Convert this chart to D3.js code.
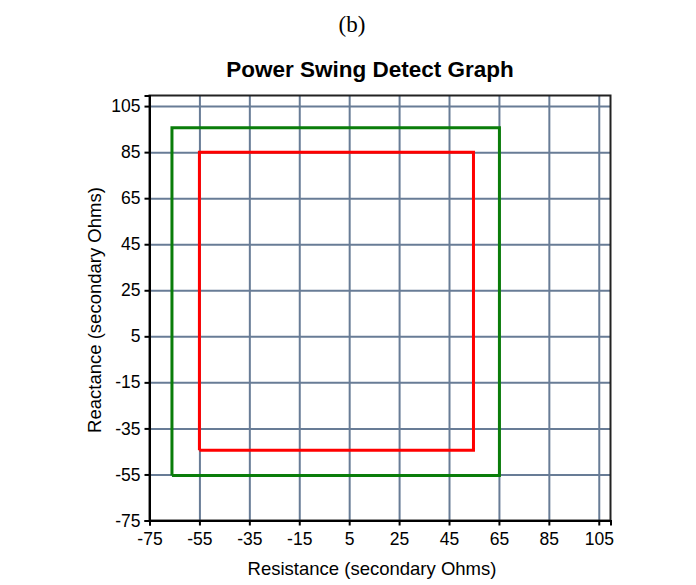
<!DOCTYPE html>
<html>
<head>
<meta charset="utf-8">
<script src="https://cdn.jsdelivr.net/npm/d3@7"></script>
<style>
  body { margin: 0; background: #fff; }
  .axis text { font-family: "Liberation Sans", Arial, sans-serif; font-size: 17.5px; fill: #000; }
  .axis path, .axis line { stroke: #000; stroke-width: 2px; }
  .grid line { stroke: #687c96; stroke-width: 2px; }
  .grid path { display: none; }
</style>
</head>
<body>
<div class="demo"></div>
<script>
const w = 696, h = 585;
const pLeft = 149.5, pRight = 610.5, pTop = 95.5, pBottom = 520.5;

// tick values shared by both axes
const ticks = [-75, -55, -35, -15, 5, 25, 45, 65, 85, 105];
const xDomain = [-75, 109.7], yDomain = [-75, 109.6];

// zones: [resistance, reactance] corners
const outerZone = [[-66, -55.4], [-66, 95.6], [65.2, 95.6], [65.2, -55.4], [-66, -55.4]];
const innerZone = [[-55, -44.5], [-55, 85], [54.8, 85], [54.8, -44.5], [-55, -44.5]];

let xScale = d3.scaleLinear().domain(xDomain).range([pLeft, pRight]);
let yScale = d3.scaleLinear().domain(yDomain).range([pBottom, pTop]);

let svg = d3.select('.demo').append('svg').attr('width', w).attr('height', h);

svg.append('text').text('(b)')
   .attr('x', 352).attr('y', 32)
   .attr('text-anchor', 'middle')
   .attr('font-family', '"Liberation Serif", "Times New Roman", serif')
   .attr('font-size', '23px');

svg.append('text').text('Power Swing Detect Graph')
   .attr('x', 370).attr('y', 77)
   .attr('text-anchor', 'middle')
   .attr('font-family', '"Liberation Sans", Arial, sans-serif')
   .attr('font-weight', 'bold')
   .attr('font-size', '22.5px');

// grid
svg.append('g').attr('class', 'grid')
   .attr('transform', 'translate(0,' + pBottom + ')')
   .call(d3.axisBottom(xScale).tickValues(ticks).tickFormat('').tickSize(-(pBottom - pTop)));
svg.append('g').attr('class', 'grid')
   .attr('transform', 'translate(' + pLeft + ',0)')
   .call(d3.axisLeft(yScale).tickValues(ticks).tickFormat('').tickSize(-(pRight - pLeft)));

let line = d3.line().x(d => xScale(d[0])).y(d => yScale(d[1]));

svg.append('path').datum(outerZone)
   .attr('d', line).attr('fill', 'none')
   .attr('stroke', '#0a7d0a').attr('stroke-width', 3);
svg.append('path').datum(innerZone)
   .attr('d', line).attr('fill', 'none')
   .attr('stroke', '#ff0000').attr('stroke-width', 3);

// frame
svg.append('rect')
   .attr('x', pLeft).attr('y', pTop)
   .attr('width', pRight - pLeft).attr('height', pBottom - pTop)
   .attr('fill', 'none').attr('stroke', '#222').attr('stroke-width', 2);

let fmt = d => String(d);  // plain hyphen minus, like the original

svg.append('g').attr('class', 'axis')
   .attr('transform', 'translate(0,' + pBottom + ')')
   .call(d3.axisBottom(xScale).tickValues(ticks).tickFormat(fmt).tickSizeOuter(0).tickSize(5).tickPadding(7));
svg.append('g').attr('class', 'axis')
   .attr('transform', 'translate(' + pLeft + ',0)')
   .call(d3.axisLeft(yScale).tickValues(ticks).tickFormat(fmt).tickSizeOuter(0).tickSize(5).tickPadding(4));

svg.append('text').text('Resistance (secondary Ohms)')
   .attr('x', 372).attr('y', 575)
   .attr('text-anchor', 'middle')
   .attr('font-family', '"Liberation Sans", Arial, sans-serif')
   .attr('font-size', '18.5px');

svg.append('text').text('Reactance (secondary Ohms)')
   .attr('transform', 'translate(101,310) rotate(-90)')
   .attr('text-anchor', 'middle')
   .attr('font-family', '"Liberation Sans", Arial, sans-serif')
   .attr('font-size', '18.5px');
</script>
</body>
</html>
